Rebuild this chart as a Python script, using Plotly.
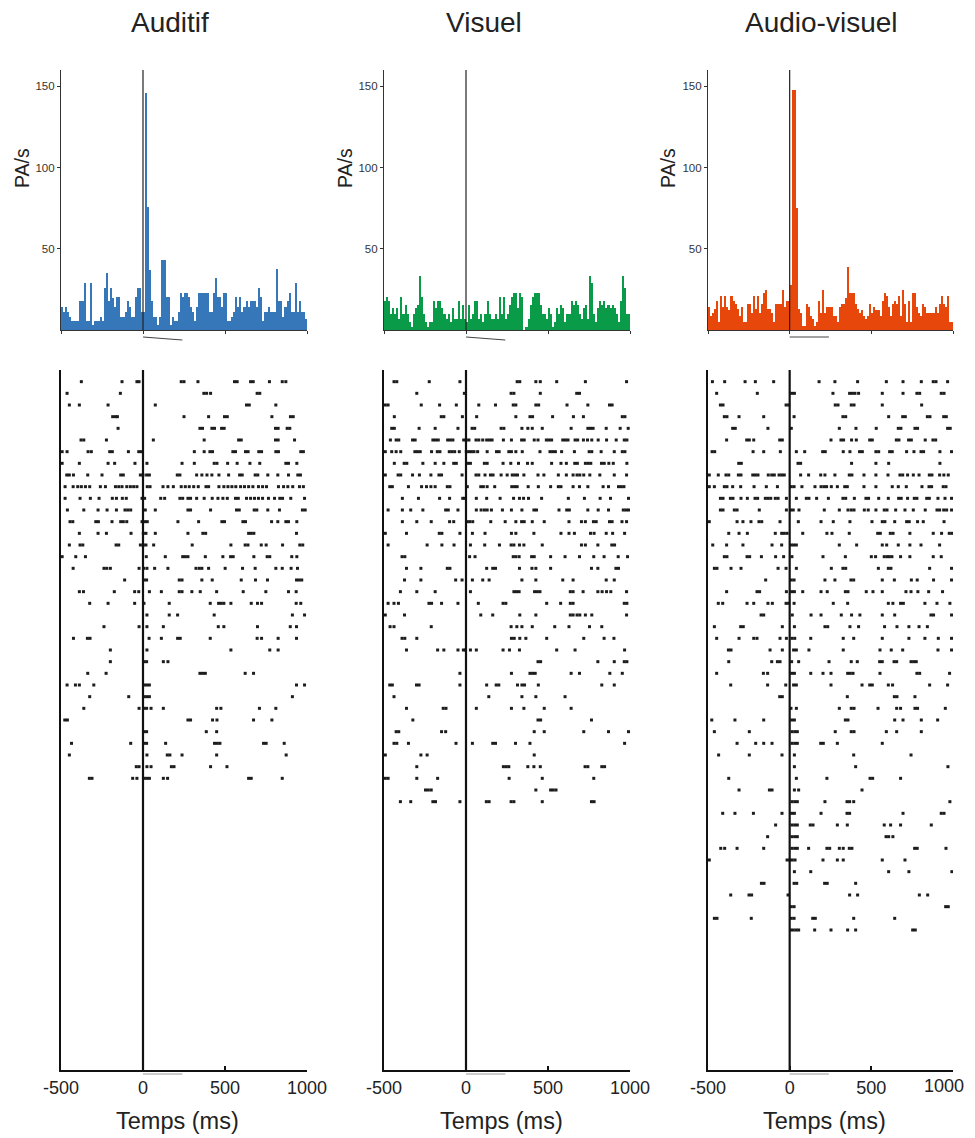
import plotly.graph_objects as go

# %% Données

titles = ["Auditif", "Visuel", "Audio-visuel"]
colors = ["#3577b8", "#0a9b48", "#e8470c"]

bin_width = 12.5  # ms, 120 classes de -500 à 1000 ms
tick_vals = [-500, 0, 500, 1000]
tick_text = ["-500", "0", "500", "1000"]

# PSTH (PA/s), 40 classes avant 0 puis 80 après
psth_aud = [14, 11, 14, 11, 8, 5.6, 5.6, 5.6, 5.6, 17.7, 17.7, 29, 5.6, 5.6, 29, 3, 5.6, 5.6, 5.6, 8,
            5.6, 26, 35, 17.7, 26, 20, 14, 20.6, 20.6, 8, 8, 11, 17.7, 14, 8, 8, 20.6, 26, 26, 11,
            11, 146, 76, 37, 18, 8, 8, 3, 8, 43, 43, 20.6, 20.6, 3, 8, 5.6, 5.6, 11, 23, 20.6,
            23, 23, 20.6, 14, 11, 5.6, 14, 23, 23, 23, 23, 23, 11, 11, 23, 31.7, 20.6, 20.6, 14, 23,
            23, 5.6, 5.6, 8, 11, 20.6, 14, 20.6, 11, 14, 17.7, 14, 17.7, 17.7, 17.7, 14, 26, 20.6, 5.6, 11,
            11, 14, 11, 11, 11, 37.4, 17.7, 17.7, 8, 14, 17.7, 23, 11, 11, 29, 11, 17.7, 11, 11, 7]

psth_vis = [18, 20.6, 18, 10, 13.4, 10, 13.4, 7, 20.6, 10, 15.4, 10, 5, 2, 10, 13.4, 15.4, 33, 20.6, 10,
            5, 2, 5, 5, 18, 13.4, 18, 18, 13.4, 10, 7, 10, 5, 13.4, 7, 7, 18, 7, 15.4, 7,
            5, 15.4, 7, 10, 18, 18, 7, 10, 5, 10, 18, 10, 7, 7, 10, 7, 20.6, 10, 20.6, 7,
            10, 15.4, 20.6, 22.6, 22.6, 13.4, 22.6, 20.6, 0, 2, 7, 15.4, 20.6, 22.6, 22.6, 22.6, 15.4, 10, 10, 7,
            13.4, 10, 2, 5, 13.4, 10, 15.4, 13.4, 5, 10, 10, 18, 15.4, 18, 15.4, 10, 7, 13.4, 15.4, 7,
            33, 28.8, 10, 5, 13.4, 18, 15.4, 18, 13.4, 15.4, 13.4, 15.4, 13.4, 10, 5, 18, 33, 26, 10, 10]

psth_av = [14, 8.6, 10.7, 12.8, 18, 5, 21, 14, 21, 14, 12.5, 21, 18, 16.3, 12.8, 8.6, 14, 5, 5, 16.3,
           16.3, 10.7, 21, 12.8, 21, 10.7, 16.3, 22.6, 24.5, 12.8, 12.8, 10.7, 5, 16.3, 16.3, 16.3, 24.5, 14, 18, 18,
           28, 148, 148, 75, 12.8, 10.7, 2.5, 2.5, 16.3, 14, 8.6, 6.6, 2.5,
           5, 18, 10.7, 24.5, 10.7, 14, 14, 14, 8.6, 8.6, 5, 14, 16.3, 16.3, 20, 38.9, 22.6, 22.6, 22.6, 16.3,
           12.8, 10.7, 12.5, 8.6, 6.6, 8.6, 16.3, 10.7, 14, 12.5, 12.5, 8.6,
           18, 22.6, 21, 14, 8.6, 16.3, 18, 16.3, 21, 8.6, 24.5, 16.3, 5, 18, 5, 22.6, 22.6, 14, 10.7, 8.6,
           16.3, 14, 10.7, 10.7, 10.7, 10.7, 14, 10.7, 16.3, 21, 16.3, 14, 21, 5, 5]

# Rasters : temps des PA (ms) par essai
raster_aud = [
    [-376, -128, -37, -24, 233, 250, 335, 558, 574, 656, 672, 771, 849, 871],
    [-463, -138, 371, 388, 412, 696, 712],
    [-449, -388, -213, 75, 631, 648, 810],
    [-185, -168, -156, 250, 400, 497, 514, 786, 899, 916],
    [-152, 347, 363, 420, 436, 479, 495, 808, 824, 879, 895],
    [-378, -361, -223, 63, 373, 583, 599, 808, 824, 924],
    [-493, -463, -335, -315, -203, -187, -89, -26, -10, 313, 373, 408, 424, 548, 564, 625, 641, 706, 723, 810, 826, 962, 978],
    [-493, -388, -213, -173, -49, 24, 238, 313, 434, 451, 516, 574, 652, 712, 871, 887, 938],
    [-465, -449, -424, -337, -250, -136, -120, -16, 0, 22, 39, 209, 225, 327, 359, 390, 420, 463, 522, 589, 605, 684, 700, 761, 822, 887, 944, 960],
    [-475, -426, -398, -376, -351, -325, -260, -229, -168, -148, -128, -99, -77, -57, -37, 26, 43, 122, 152, 185, 233, 258, 282, 309, 337, 384, 400, 463, 493, 518, 542, 566, 595, 619, 644, 670, 704, 729, 753, 826, 857, 883, 913, 954, 978],
    [-475, -384, -321, -268, -187, -162, -126, -102, -6, 10, 108, 132, 225, 242, 274, 290, 327, 373, 422, 457, 487, 514, 564, 581, 631, 656, 680, 704, 729, 765, 802, 834, 851, 901, 985],
    [-461, -361, -274, -219, -162, -110, -93, -75, 14, 75, 274, 290, 412, 570, 587, 678, 694, 761, 832, 972, 989],
    [-445, -428, -288, -272, -189, -136, -120, -99, -6, 10, 26, 213, 339, 481, 497, 609, 625, 784, 822, 871, 887, 938],
    [-388, -274, -223, -73, 2, 18, 75, 274, 365, 382, 644, 660, 676, 936],
    [-449, -384, -367, -164, -148, -16, 2, 18, 65, 300, 536, 623, 640, 721, 751, 851, 956, 974],
    [-493, -410, -351, 20, 136, 242, 258, 274, 380, 487, 534, 550, 676, 757, 773, 907, 938],
    [-426, -238, -221, -199, -24, 4, 24, 71, 152, 323, 343, 359, 400, 501, 607, 684, 810, 849, 903, 942],
    [-112, 6, 22, 221, 238, 359, 422, 599, 686, 759, 936, 952, 968],
    [-388, -363, -175, -51, -26, 39, 112, 221, 238, 298, 349, 449, 611, 749, 887, 934],
    [-325, -213, -51, 6, 160, 410, 461, 477, 493, 536, 660, 698, 723, 934, 962],
    [24, 160, 211, 434, 911, 985],
    [-238, -24, 24, 124, 459, 493, 698, 898, 936],
    [-424, -339, -323, 37, 112, 211, 227, 410, 696, 723, 824, 936],
    [-199, 24, 536, 773, 824],
    [-199, 6, 22, 124, 152],
    [-337, -225, 347, 363, 380, 623, 674],
    [-463, -412, -388, -300, 6, 22, 39, 936, 985],
    [-325, -87, 6, 22, 39, 911],
    [-361, -24, 6, 22, 49, 124, 449, 475, 710, 810],
    [-477, -461, 274, 290, 424, 451, 674, 786],
    [6, 22, 386, 449],
    [-436, -75, 6, 22, 138, 436, 453, 469, 735, 751, 861],
    [-449, 24, 148, 164, 238, 449, 873],
    [-41, -24, 24, 49, 173, 189, 412, 512],
    [-327, -311, -63, -37, 6, 22, 39, 124, 150, 644, 660, 849],
]

raster_vis = [
    [-439, -422, -224, -37, 312, 328, 426, 453, 553, 728, 979],
    [-300, -10, 275, 292, 453, 675, 692],
    [-492, -475, -273, -161, -59, 78, 180, 288, 304, 426, 443, 616, 743, 875, 891],
    [-437, -151, -135, -22, 65, 304, 390, 406, 528, 655, 716, 953, 969],
    [-453, -437, -286, -188, -49, 37, 53, 214, 231, 341, 377, 404, 465, 641, 743, 759, 775, 855, 940, 989],
    [-461, -426, -410, -326, -310, -202, -186, -169, -112, -96, -80, -14, 2, 18, 61, 78, 102, 126, 143, 159, 228, 277, 339, 355, 416, 439, 490, 506, 522, 590, 606, 622, 665, 681, 716, 741, 767, 806, 857, 916, 965, 981],
    [-492, -453, -426, -398, -312, -296, -279, -210, -175, -159, -102, -86, -69, -41, 2, 18, 33, 49, 71, 129, 186, 202, 261, 277, 304, 343, 451, 512, 528, 545, 583, 661, 751, 767, 824, 904, 953, 969],
    [-437, -377, -361, -263, -188, -135, -75, -59, 10, 27, 112, 129, 226, 273, 320, 375, 404, 522, 579, 612, 663, 679, 728, 745, 761, 826, 843, 871, 898, 981],
    [-492, -414, -398, -326, -284, -214, -165, -149, -24, 61, 78, 116, 149, 165, 214, 251, 282, 298, 314, 353, 439, 475, 563, 612, 653, 677, 694, 718, 755, 816, 904, 979],
    [-465, -449, -351, -271, -241, -214, -188, -114, -98, 8, 90, 106, 129, 175, 279, 296, 312, 379, 441, 516, 563, 579, 653, 692, 743, 836, 869, 930, 947, 963],
    [-388, -290, -161, -100, -20, -8, 63, 126, 208, 290, 326, 351, 381, 461, 624, 722, 818, 881, 991],
    [-475, -388, -337, -263, -124, -108, -49, 63, 92, 112, 129, 155, 222, 277, 341, 414, 430, 567, 614, 630, 743, 806, 869, 959, 975, 991],
    [-388, -300, -212, -100, -75, 6, 22, 41, 151, 239, 304, 339, 355, 404, 477, 628, 704, 728, 777, 794, 875, 891, 951, 979],
    [-492, -363, -163, -147, -37, 39, 116, 277, 304, 414, 579, 628, 661, 759, 781, 855, 894, 967],
    [-475, -237, -147, -73, 27, 114, 204, 275, 292, 326, 353, 465, 704, 728, 804, 889, 906],
    [-390, -373, 22, 55, 288, 304, 324, 400, 416, 516, 604, 692, 779, 842, 928, 985],
    [-363, -275, -114, -98, 126, 163, 180, 326, 402, 426, 516, 765, 804, 914, 930],
    [-375, -275, -63, -24, 39, 102, 141, 341, 426, 590, 653, 855, 904],
    [-400, -300, -188, 27, 292, 308, 324, 418, 435, 451, 636, 653, 714, 804, 830, 857, 883, 979],
    [-475, -439, -412, -226, -210, -149, -49, 75, 226, 243, 492, 577, 636, 653, 965, 981],
    [-492, -375, 90, 163, 328, 426, 636, 653, 677, 694, 728, 767, 979],
    [-463, -439, -212, 275, 310, 341, 404, 541, 628, 753, 828],
    [-390, -373, -300, 277, 294, 328, 365, 492, 718, 842, 902],
    [-363, -173, -135, -49, -16, -4, 27, 63, 226, 265, 326, 553, 665, 967],
    [439, 455, 804, 904, 965, 981],
    [-37, 277, 390, 406, 422, 641, 692, 877, 953],
    [-465, -449, -302, -286, -37, 126, 184, 200, 314, 341, 357, 441, 828, 904],
    [-439, 139, 341, 426, 604],
    [-363, -139, -122, 63, 277, 353, 477, 641],
    [-324, 439, 455, 765],
    [-426, -410, -149, -124, 416, 477, 718, 869, 991],
    [-439, -422, -351, -61, 39, 163, 180, 302, 390, 967],
    [-492, -275, -237, 416],
    [-300, 228, 245, 261, 377, 414, 453, 726, 743, 828, 845],
    [-492, -475, -300, -173, 263, 465, 779],
    [-247, -230, -212, 426, 516, 532, 549],
    [-400, -337, -202, -186, -37, 124, 141, 275, 292, 465, 765, 781],
]

raster_av = [
    [-473, -398, -273, -210, -98, 180, 277, 416, 592, 694, 806, 879, 896, 967],
    [-447, -198, 12, 29, 265, 367, 384, 400, 422, 567, 694, 779, 796, 928, 945],
    [-424, -408, -22, -6, 279, 296, 377, 394, 567, 808],
    [-400, -384, -310, -159, 27, 326, 343, 606, 692, 708, 843, 859, 943, 959],
    [-349, -333, -133, 10, 304, 406, 530, 665, 681, 767, 783, 967, 983],
    [-386, -263, -247, -220, -61, -45, 253, 314, 330, 379, 408, 490, 506, 653, 669, 728, 745, 830, 877, 894],
    [-475, -459, -224, -159, -57, 41, 92, 202, 218, 328, 369, 428, 445, 528, 545, 612, 628, 716, 761, 804, 820, 920, 991],
    [-312, -296, 51, 67, 379, 528, 606, 920],
    [-492, -437, -390, -373, -314, -298, -226, -210, -194, -131, -110, -94, -65, -49, -33, 67, 116, 190, 216, 277, 365, 381, 455, 528, 602, 675, 692, 722, 757, 792, 855, 871, 918, 944, 971],
    [-492, -461, -400, -384, -349, -300, -218, -143, -75, 10, 27, 75, 155, 192, 210, 226, 255, 292, 337, 353, 455, 528, 628, 665, 714, 810, 853, 869, 940, 957],
    [-424, -408, -363, -347, -298, -259, -212, -196, -149, -133, -116, -88, -71, -20, 41, 102, 118, 165, 237, 326, 343, 396, 467, 483, 545, 604, 667, 683, 722, 763, 779, 839, 855, 908, 951, 991],
    [-424, -408, -339, -322, -186, -20, 6, 22, 57, 212, 304, 357, 377, 394, 457, 481, 528, 579, 596, 649, 706, 757, 830, 902, 918, 943, 961, 991],
    [-492, -322, -286, -237, -188, -171, -59, 53, 192, 267, 369, 504, 567, 583, 643, 716, 732, 783, 818, 945],
    [-373, -310, -259, -88, -49, -33, -16, 80, 228, 259, 365, 539, 555, 616, 633, 736, 879, 930, 977, 993],
    [-471, -386, -286, -108, -49, 8, 24, 41, 304, 410, 567, 594, 665, 736, 804, 918],
    [-400, -384, -261, -245, -173, -86, -37, 14, 204, 341, 500, 526, 579, 596, 610, 626, 679, 736, 879, 928],
    [-461, -445, -359, -298, -71, -22, 41, 255, 326, 343, 543, 604, 620, 857, 991],
    [-147, 10, 27, 216, 277, 375, 392, 567, 641, 745, 781, 881, 991],
    [-386, -200, -184, -20, 12, 29, 80, 192, 230, 341, 357, 469, 510, 567, 712, 743, 785, 851, 936],
    [-437, -410, -261, -220, -133, -106, -22, -6, 27, 267, 355, 604, 632, 679, 696, 828, 902, 981],
    [-175, -159, 16, 131, 192, 316, 379, 430, 567, 643, 865, 881, 991],
    [-461, -300, -284, -45, 29, 216, 233, 369, 422, 581, 657, 730, 792, 843],
    [-447, -310, -220, -200, -59, -20, 14, 31, 129, 328, 392, 567, 730, 828, 910, 991],
    [-375, -359, -120, -45, 24, 41, 118, 328, 553, 622, 692, 908, 991],
    [-373, -110, -75, -59, 12, 55, 241, 377, 414, 551, 567, 639, 655, 743, 759, 775],
    [-447, -161, -135, 12, 29, 129, 204, 253, 355, 371, 388, 553, 779, 796, 979],
    [-361, -135, -24, 24, 41, 253, 443, 490, 506, 604, 630, 857, 967],
    [-61, -45, 353, 641, 657, 767],
    [8, 41, 304, 377, 394, 541, 655, 679, 767, 783, 953],
    [-477, -335, -159, 12, 29, 341, 357, 643, 694, 806, 906],
    [-461, -247, 14, 31, 47, 279, 377, 394, 592, 655, 806],
    [-322, -208, -159, -108, 14, 31, 47, 190, 206, 292, 567],
    [-435, -247, -47, 29, 392, 743],
    [29, 404, 969],
    [-373, 41, 228, 492, 508, 679],
    [-310, -124, -108, 29, 55, 443],
    [14, 31, 47, 216, 351, 367, 392, 981],
    [-410, -335, -222, -47, 12, 29, 192, 351, 367, 694, 928, 945],
    [-86, 14, 31, 47, 126, 143, 292, 353, 579, 618, 679, 867],
    [-135, 14, 31, 47, 590, 606, 632],
    [-422, -398, -322, -159, 14, 31, 47, 116, 228, 245, 304, 328, 365, 381, 765, 781, 957],
    [-492, -16, 0, 16, 33, 204, 292, 328, 567, 706],
    [29, 129, 606, 730, 993],
    [-173, -157, 27, 43, 214, 230, 404],
    [-361, -249, -233, -10, 367, 416, 794, 845],
    [10, 27, 955, 971],
    [-461, -445, -235, 10, 27, 141, 157, 392, 643],
    [6, 22, 39, 55, 153, 253, 355, 404, 753, 769],
]

psths = [psth_aud, psth_vis, psth_av]
rasters = [raster_aud, raster_vis, raster_av]

# %% Mise en page (pixels de la page -> papier)

PAGE_OFF = 8                   # marge du <body> de la page
W, H = 975 - PAGE_OFF, 1138 - PAGE_OFF
FONT = "Liberation Sans, Arial, sans-serif"


def fx(p):
    return (p - PAGE_OFF) / W


def fy(p):
    return 1 - (p - PAGE_OFF) / H


panel_px = [(61, 307), (384, 630), (708, 953)]
title_px = [170, 484, 821]
xlabel_px = [177, 501, 824]
ylabel_px = [22, 345, 668]
stim_slant = [3, 3, 0]

bin_centers = [-500 + bin_width * (i + 0.5) for i in range(len(psth_aud))]

fig = go.Figure()
layout = {}
shapes = []
annotations = []

for i in range(3):
    hn, rn = 2 * i + 1, 2 * i + 2
    hx = "x" if hn == 1 else f"x{hn}"
    hy = "y" if hn == 1 else f"y{hn}"
    rx, ry = f"x{rn}", f"y{rn}"
    dom = [fx(panel_px[i][0]), fx(panel_px[i][1])]

    # histogramme
    fig.add_trace(go.Bar(
        x=bin_centers, y=psths[i], width=bin_width,
        marker=dict(color=colors[i], line=dict(width=0)),
        xaxis=hx, yaxis=hy, hoverinfo="skip"))

    # raster
    xs, ys = [], []
    for k, trial in enumerate(rasters[i]):
        xs += trial
        ys += [k + 1] * len(trial)
    fig.add_trace(go.Scatter(
        x=xs, y=ys, mode="markers",
        marker=dict(symbol="square", size=3, color="#1c1c1c", line=dict(width=0)),
        xaxis=rx, yaxis=ry, hoverinfo="skip"))

    layout["xaxis" if hn == 1 else f"xaxis{hn}"] = dict(
        domain=dom, anchor=hy, range=[-500, 1000], showgrid=False, zeroline=False,
        showline=True, linecolor="#333", linewidth=1.2, automargin=False,
        ticks="outside", ticklen=3, tickcolor="#333", tickvals=tick_vals,
        showticklabels=False)
    layout["yaxis" if hn == 1 else f"yaxis{hn}"] = dict(
        domain=[fy(330), fy(70)], anchor=hx, range=[0, 160], showgrid=False,
        zeroline=False, showline=True, linecolor="#333", linewidth=1.2, automargin=False,
        ticks="outside", ticklen=3, tickcolor="#333", tickvals=[50, 100, 150],
        tickfont=dict(size=11.5, color="#333", family=FONT))

    # le dernier panneau touche le bord droit : son « 1000 » est posé à part
    labels = tick_text if i < 2 else tick_text[:-1] + [""]
    layout[f"xaxis{rn}"] = dict(
        domain=dom, anchor=ry, range=[-500, 1000], showgrid=False, zeroline=False,
        showline=True, linecolor="#111", linewidth=2, automargin=False,
        ticks="inside", ticklen=4, tickwidth=1.5, tickcolor="#111",
        tickvals=tick_vals, ticktext=labels,
        tickfont=dict(size=18, color="#222", family=FONT))
    layout[f"yaxis{rn}"] = dict(
        domain=[fy(1070), fy(370)], anchor=rx, range=[60, 0], showgrid=False,
        zeroline=False, showline=True, linecolor="#111", linewidth=2.4, automargin=False,
        ticks="", showticklabels=False)
    if i == 2:
        annotations.append(dict(text=tick_text[-1], x=fx(966), y=fy(1086), xref="paper",
                                yref="paper", showarrow=False, xanchor="right",
                                yanchor="middle",
                                font=dict(size=18, color="#222", family=FONT)))

    # ligne du zéro
    shapes.append(dict(type="line", xref=hx, yref=f"{hy} domain", x0=0, x1=0,
                       y0=0, y1=1, line=dict(color="#222", width=1.2)))
    shapes.append(dict(type="line", xref=rx, yref=f"{ry} domain", x0=0, x1=0,
                       y0=0, y1=1, line=dict(color="#111", width=2.2)))
    # durée du stimulus
    shapes.append(dict(type="line", xref=hx, yref="paper", x0=0, x1=240,
                       y0=fy(337), y1=fy(337 + stim_slant[i]),
                       line=dict(color="#444", width=1.1)))
    shapes.append(dict(type="line", xref=rx, yref="paper", x0=0, x1=240,
                       y0=fy(1074), y1=fy(1074), line=dict(color="#999", width=1)))

    annotations.append(dict(text=titles[i], x=fx(title_px[i]), y=fy(22), xref="paper",
                            yref="paper", showarrow=False, xanchor="center", yanchor="middle",
                            font=dict(size=28, color="#222", family=FONT)))
    annotations.append(dict(text="PA/s", x=fx(ylabel_px[i]), y=fy(168), xref="paper",
                            yref="paper", showarrow=False, textangle=-90,
                            xanchor="center", yanchor="middle",
                            font=dict(size=19.5, color="#222", family=FONT)))
    annotations.append(dict(text="Temps (ms)", x=fx(xlabel_px[i]), y=fy(1121), xref="paper",
                            yref="paper", showarrow=False, xanchor="center", yanchor="middle",
                            font=dict(size=23.5, color="#222", family=FONT)))

fig.update_layout(
    width=W, height=H, margin=dict(l=0, r=0, t=0, b=0, autoexpand=False),
    plot_bgcolor="white", paper_bgcolor="white", showlegend=False,
    bargap=0, font=dict(family=FONT),
    shapes=shapes, annotations=annotations, **layout)

fig.write_html("out.html")
